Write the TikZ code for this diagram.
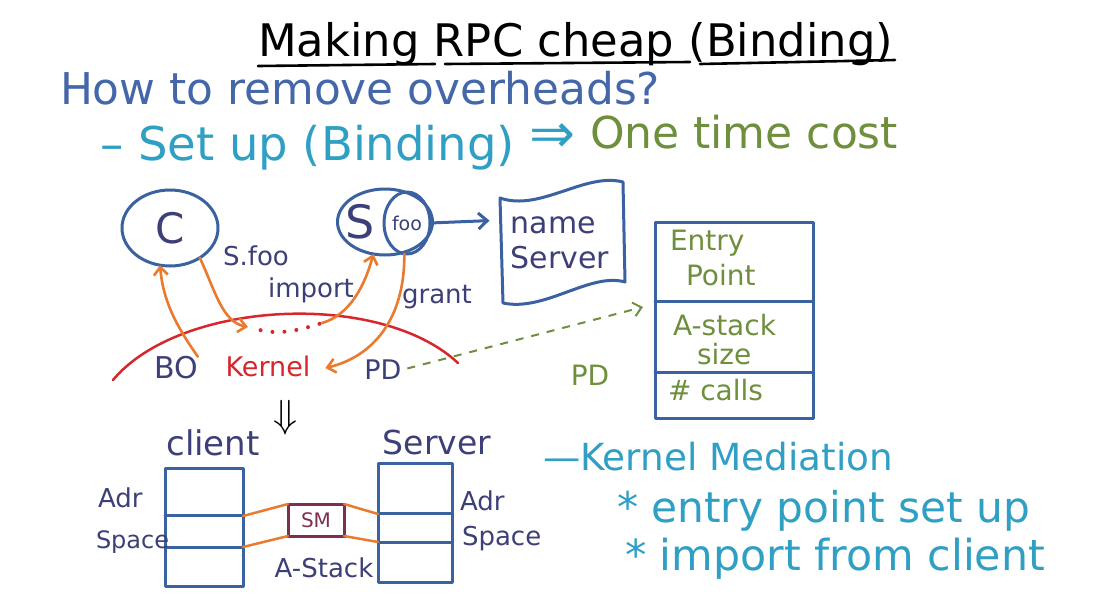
\documentclass[tikz,border=0pt]{standalone}
\usepackage{fontspec}
\setmainfont{DejaVu Sans}
\usepackage{graphicx}
\usetikzlibrary{arrows.meta,shapes.geometric,calc}
\definecolor{navy}{HTML}{3D3F78}
\definecolor{lineblue}{HTML}{3B62A0}
\definecolor{hblue}{HTML}{4467A9}
\definecolor{cteal}{HTML}{2FA0C4}
\definecolor{cgreen}{HTML}{6E8F3C}
\definecolor{corange}{HTML}{EA7A2E}
\definecolor{cred}{HTML}{D8262C}
\definecolor{cmaroon}{HTML}{7D2F50}
\newcommand{\fw}[2]{\resizebox{#1}{!}{#2}}
\tikzset{
  hand/.style={line width=3pt, line cap=round, line join=round},
  bl/.style={hand, draw=lineblue},
  oarr/.style={line width=2.6pt, draw=corange, line cap=round, -{Straight Barb[length=8pt,width=14pt]}},
  oline/.style={line width=2.5pt, draw=corange, line cap=round},
  bluearr/.style={hand, draw=lineblue, -{Straight Barb[length=9pt,width=16pt]}},
  lab/.style={text=navy, font=\fontsize{26}{28}\selectfont},
  grn/.style={text=cgreen, font=\fontsize{28}{30}\selectfont},
}
\begin{document}
\begin{tikzpicture}[x=1pt,y=-1pt, every node/.style={inner sep=0pt, outer sep=0pt}]
\useasboundingbox[fill=white] (0,0) rectangle (1098,614);

% title and headings
\node[anchor=base west, text=black] (title) at (258,56) {\fw{635pt}{Making RPC cheap (Binding)}};
\draw[hand, line width=2.6pt] (258,66) -- (435,64);
\draw[hand, line width=2.6pt] (445,64) -- (690,62);
\draw[hand, line width=2.6pt] (700,64) -- (895,60);
\node[anchor=base west, text=hblue] (how) at (60,104) {\fw{600pt}{How to remove overheads?}};
\node[anchor=base west, text=cteal] (setup) at (100,160) {\fw{415pt}{– Set up (Binding)}};
\node[anchor=base, text=cteal] (impl) at (552,152) {\fw{46pt}{⇒}};
\node[anchor=base west, text=cgreen] (cost) at (590,148) {\fw{308pt}{One time cost}};

% C and S
\node[ellipse, bl, minimum width=96pt, minimum height=76pt, text=navy, font=\fontsize{42}{42}\selectfont] (C) at (170,228) {C};
\node[ellipse, bl, minimum width=95pt, minimum height=66pt] (S) at (385,222) {};
\node[text=navy, font=\fontsize{46}{46}\selectfont] (Sl) at (360,222) {S};
\node[ellipse, bl, minimum width=46pt, minimum height=62pt, text=navy, font=\fontsize{19}{19}\selectfont] (foo) at (407,223) {foo};

% name server
\node[text=navy, font=\fontsize{30}{35}\selectfont, align=left, minimum width=125pt, minimum height=100pt] (ns) at (560,243) {name\\Server};
\draw[bl] (500,198) .. controls (540,212) and (585,172) .. (623,182) -- (625,282) .. controls (590,272) and (545,312) .. (503,303) -- cycle;
\draw[bluearr, shorten >=8pt] (foo.east) -- (ns.160);

% PD table
\node[bl, rectangle, minimum width=158pt, minimum height=196pt] (pd) at (734,320) {};
\draw[bl] (pd.west |- 0,301) -- (pd.east |- 0,301);
\draw[bl] (pd.west |- 0,372) -- (pd.east |- 0,372);
\node[grn, anchor=base west] (entry) at (670,250) {Entry};
\node[grn, anchor=base west] (point) at (686,285) {Point};
\node[grn, anchor=base west] (astack) at (673,335) {A-stack};
\node[grn, anchor=base west] (size) at (697,364) {size};
\node[grn, anchor=base west] (calls) at (668,400) {\# calls};

% kernel
\draw[cred, line width=2.5pt, line cap=round] (113,380) .. controls (180,300) and (380,290) .. (458,363);
\node[text=navy, font=\fontsize{30}{30}\selectfont] (BO) at (176,368) {BO};
\node[text=cred, font=\fontsize{27}{27}\selectfont] (Kernel) at (268,366) {Kernel};
\node[text=navy, font=\fontsize{27}{27}\selectfont] (PDk) at (383,370) {PD};
\draw[cgreen, line width=2pt, dash pattern=on 8pt off 8pt, -{Straight Barb[length=8pt,width=14pt]}, shorten <=6pt] (PDk.east) -- ($(pd.west)+(-12,-13)$);
\node[grn] (pdg) at (590,375) {PD};

% orange arrows
\coordinate (dA) at (248,327);
\coordinate (dB) at (322,323);
\draw[oarr] (BO.north east) .. controls (175,324) and (163,300) .. (C.255);
\draw[oarr] (C.315) .. controls (215,290) and (222,322) .. (dA);
\draw[cred, line width=4pt, line cap=round, dash pattern=on 0pt off 12pt, shorten <=13pt] (dA) .. controls (280,335) and (300,330) .. (dB);
\draw[oarr] (dB) .. controls (350,315) and (365,285) .. (S.250);
\draw[oarr] (foo.265) .. controls (405,320) and (372,357) .. ($(Kernel.east)+(15,2)$);
\node[lab] (sfoo) at (256,256) {S.foo};
\node[lab] (import) at (311,290) {import};
\node[lab] (grant) at (437,297) {grant};

% bottom
\node[text=black] (dn) at (286,418) {\fw{24pt}{$\Downarrow$}};
\node[bl, rectangle, minimum width=78pt, minimum height=118pt] (cs) at (204,527) {};
\draw[bl] (cs.west |- 0,515) -- (cs.east |- 0,515);
\draw[bl] (cs.west |- 0,547) -- (cs.east |- 0,547);
\node[bl, rectangle, minimum width=74pt, minimum height=119pt] (ss) at (415,522.5) {};
\draw[bl] (ss.west |- 0,513) -- (ss.east |- 0,513);
\draw[bl] (ss.west |- 0,542) -- (ss.east |- 0,542);
\node[text=navy, font=\fontsize{34}{34}\selectfont] (client) at (213,443) {client};
\node[text=navy, font=\fontsize{33}{33}\selectfont] (server) at (437,442) {Server};
\node[draw=cmaroon, line width=3pt, minimum width=56pt, minimum height=32pt, text=cmaroon, font=\fontsize{20}{20}\selectfont] (sm) at (316,520) {SM};
\draw[oline] (cs.east |- 0,516) -- (sm.north west);
\draw[oline] (sm.north east) -- (ss.west |- 0,514);
\draw[oline] (cs.east |- 0,547) -- (sm.south west);
\draw[oline] (sm.south east) -- (ss.west |- 0,542);
\node[lab, anchor=base west] (adrL) at (98,507) {Adr};
\node[lab, anchor=base west, font=\fontsize{24}{26}\selectfont] (spL) at (96,548) {Space};
\node[lab, anchor=base west] (adrR) at (460,510) {Adr};
\node[lab, anchor=base west] (spR) at (462,545) {Space};
\node[lab] (astk) at (324,568) {A-Stack};

% right text
\node[anchor=base west, text=cteal] (km) at (543,470) {\fw{350pt}{—Kernel Mediation}};
\node[anchor=base west, text=cteal] (ep) at (617,522) {\fw{413pt}{* entry point set up}};
\node[anchor=base west, text=cteal] (ifc) at (625,570) {\fw{420pt}{* import from client}};
\end{tikzpicture}
\end{document}
